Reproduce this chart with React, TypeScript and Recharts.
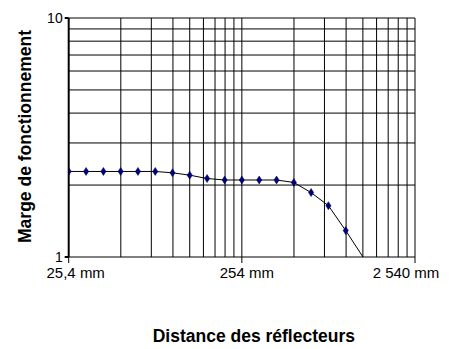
import { LineChart, Line, XAxis, YAxis, ReferenceLine, Label } from 'recharts';

// distances (mm), 0.1 decade apart starting at 25.4 mm
const distances = [
  25.4, 32, 40.3, 50.7, 63.8, 80.3, 101, 127, 160, 202, 254, 320, 403, 507, 638, 803, 1011, 1272,
];
const margins = [
  2.28, 2.28, 2.28, 2.28, 2.28, 2.28, 2.25, 2.2, 2.13, 2.1, 2.1, 2.1, 2.1, 2.05, 1.86, 1.64, 1.29, 1.0,
];
const xTicks = [25.4, 254, 2540];
const xTickLabels = ['25,4 mm', '254 mm', '2 540 mm'];
const yTicks = [1, 10];
const xGrid = [2, 3, 4, 5, 6, 7, 8, 9, 10, 20, 30, 40, 50, 60, 70, 80, 90, 100].map((k) => 25.4 * k);
const yGrid = [2, 3, 4, 5, 6, 7, 8, 9, 10];

const data = distances.map((x, i) => ({ x, y: margins[i] }));

const FONT = "'Liberation Sans', Arial, Helvetica, sans-serif";
const LABEL_SHIFT = [7, 5, -9];

function Diamond(props: any) {
  const { cx, cy, index } = props;
  // last point sits on the axis, no marker drawn there
  if (index === data.length - 1 || cx == null) return null;
  return (
    <path
      key={`d-${index}`}
      d={`M${cx},${cy - 4} L${cx + 2.6},${cy} L${cx},${cy + 4} L${cx - 2.6},${cy} Z`}
      fill="#000080"
      stroke="#000040"
      strokeWidth={0.5}
    />
  );
}

function XTick(props: any) {
  const { x, y, index } = props;
  return (
    <text
      x={x + (LABEL_SHIFT[index] || 0)}
      y={y + 15}
      textAnchor="middle"
      fontFamily={FONT}
      fontSize={15}
      fill="#000"
    >
      {xTickLabels[index]}
    </text>
  );
}

export default function App() {
  return (
    <div style={{ position: 'fixed', left: 0, top: 0, width: 456, height: 349, background: '#fff' }}>
      <LineChart
        width={456}
        height={349}
        data={data}
        margin={{ top: 18, right: 41, left: 0, bottom: 0 }}
      >
        {xGrid.map((v) => (
          <ReferenceLine key={`vx-${v}`} x={v} stroke="#000" strokeWidth={1} />
        ))}
        {yGrid.map((v) => (
          <ReferenceLine key={`hy-${v}`} y={v} stroke="#000" strokeWidth={1} />
        ))}
        <XAxis
          dataKey="x"
          type="number"
          scale="log"
          domain={[25.4, 2540]}
          ticks={xTicks}
          interval={0}
          allowDataOverflow
          height={92}
          stroke="#000"
          tickSize={6}
          tickMargin={0}
          tick={<XTick />}
        >
          <Label
            content={(p: any) => {
              const vb = p.viewBox;
              return (
                <text
                  x={vb.x + vb.width / 2 + 12}
                  y={342}
                  textAnchor="middle"
                  fontFamily={FONT}
                  fontWeight="bold"
                  fontSize={17.5}
                  fill="#000"
                >
                  Distance des réflecteurs
                </text>
              );
            }}
          />
        </XAxis>
        <YAxis
          type="number"
          scale="log"
          domain={[1, 10]}
          ticks={yTicks}
          interval={0}
          allowDataOverflow
          width={68.7}
          stroke="#000"
          strokeWidth={2}
          tickSize={4}
          tickMargin={2}
          tick={{ fill: '#000', fontSize: 14, fontFamily: FONT }}
        >
          <Label
            content={() => (
              <text
                x={30.5}
                y={136.5}
                transform="rotate(-90, 30.5, 136.5)"
                textAnchor="middle"
                fontFamily={FONT}
                fontWeight="bold"
                fontSize={17.5}
                fill="#000"
              >
                Marge de fonctionnement
              </text>
            )}
          />
        </YAxis>
        <Line
          type="linear"
          dataKey="y"
          stroke="#000"
          strokeWidth={1}
          dot={<Diamond />}
          activeDot={false}
          isAnimationActive={false}
        />
      </LineChart>
    </div>
  );
}
